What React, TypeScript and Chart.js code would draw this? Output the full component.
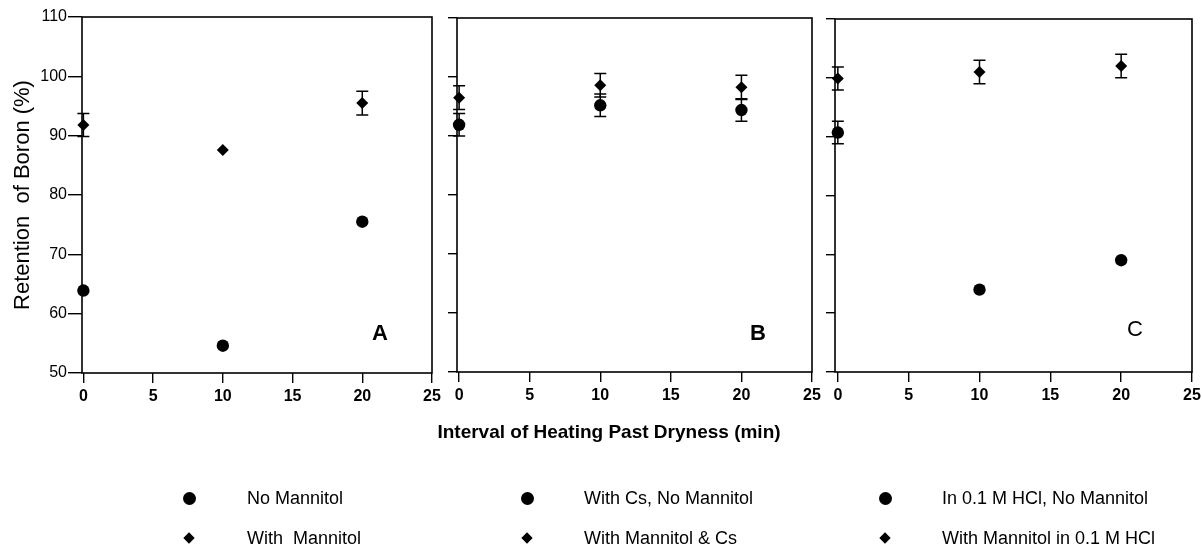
import React, { useEffect, useRef } from "react";
import { Chart, registerables } from "chart.js";

Chart.register(...registerables);

// ---------- data ----------
const heatingMinutes = [0, 10, 20];
const xTickValues = [0, 5, 10, 15, 20, 25];
const yTickValues = [50, 60, 70, 80, 90, 100, 110];

const panelANoMannitol = [63.9, 54.6, 75.5];
const panelANoMannitolErr = [0, 0, 0];
const panelAWithMannitol = [91.8, 87.6, 95.5];
const panelAWithMannitolErr = [1.95, 0, 2.0];

const panelBNoMannitol = [91.9, 95.2, 94.4];
const panelBNoMannitolErr = [1.9, 1.9, 1.9];
const panelBWithMannitol = [96.5, 98.6, 98.25];
const panelBWithMannitolErr = [2.0, 2.0, 2.05];

const panelCNoMannitol = [90.7, 64.0, 69.0];
const panelCNoMannitolErr = [1.9, 0, 0];
const panelCWithMannitol = [99.9, 101.0, 102.0];
const panelCWithMannitolErr = [1.95, 2.0, 2.0];

const legendCircleLabels = ["No Mannitol", "With Cs, No Mannitol", "In 0.1 M HCl, No Mannitol"];
const legendDiamondLabels = ["With  Mannitol", "With Mannitol & Cs", "With Mannitol in 0.1 M HCl"];
const panelLetters = ["A", "B", "C"];

const yTitle = "Retention  of Boron (%)";
const xTitle = "Interval of Heating Past Dryness (min)";

const FONT = "'Liberation Sans', Arial, Helvetica, sans-serif";
const W = 1202;
const H = 550;
const X_AXIS_H = 40;

type PanelCfg = {
  circles: number[];
  circleErr: number[];
  diamonds: number[];
  diamondErr: number[];
  left: number;
  right: number;
  top: number;
  bottom: number;
  padL: number;
  xMin: number;
  showYLabels: boolean;
  yTickLen: number;
};

const panels: PanelCfg[] = [
  {
    circles: panelANoMannitol, circleErr: panelANoMannitolErr,
    diamonds: panelAWithMannitol, diamondErr: panelAWithMannitolErr,
    left: 82, right: 432, top: 17, bottom: 373, padL: 6, xMin: -0.1,
    showYLabels: true, yTickLen: 14,
  },
  {
    circles: panelBNoMannitol, circleErr: panelBNoMannitolErr,
    diamonds: panelBWithMannitol, diamondErr: panelBWithMannitolErr,
    left: 457, right: 812, top: 18, bottom: 372, padL: 440, xMin: -0.15,
    showYLabels: false, yTickLen: 9,
  },
  {
    circles: panelCNoMannitol, circleErr: panelCNoMannitolErr,
    diamonds: panelCWithMannitol, diamondErr: panelCWithMannitolErr,
    left: 835, right: 1192, top: 19, bottom: 372, padL: 818, xMin: -0.2,
    showYLabels: false, yTickLen: 9,
  },
];

const errorBarPlugin = {
  id: "errorBars",
  beforeDatasetsDraw(chart: any) {
    const { ctx } = chart;
    const xs = chart.scales.x;
    const ys = chart.scales.y;
    chart.data.datasets.forEach((ds: any) => {
      const errs: number[] = ds.errors;
      if (!errs) return;
      ds.data.forEach((p: any, i: number) => {
        const e = errs[i];
        if (!e) return;
        const x = xs.getPixelForValue(p.x);
        const y1 = ys.getPixelForValue(p.y + e);
        const y2 = ys.getPixelForValue(p.y - e);
        ctx.save();
        ctx.strokeStyle = "#000";
        ctx.lineWidth = 1.5;
        ctx.beginPath();
        ctx.moveTo(x, y1);
        ctx.lineTo(x, y2);
        ctx.moveTo(x - 6, y1);
        ctx.lineTo(x + 6, y1);
        ctx.moveTo(x - 6, y2);
        ctx.lineTo(x + 6, y2);
        ctx.stroke();
        ctx.restore();
      });
    });
  },
};

const boxPlugin = {
  id: "frameBox",
  afterDraw(chart: any) {
    const { ctx, chartArea } = chart;
    ctx.save();
    ctx.strokeStyle = "#000";
    ctx.lineWidth = 1.6;
    ctx.strokeRect(chartArea.left, chartArea.top, chartArea.right - chartArea.left, chartArea.bottom - chartArea.top);
    ctx.restore();
  },
};

function Panel({ cfg }: { cfg: PanelCfg }) {
  const ref = useRef<HTMLCanvasElement | null>(null);
  useEffect(() => {
    if (!ref.current) return;
    const chart = new Chart(ref.current, {
      type: "scatter",
      data: {
        datasets: [
          {
            data: heatingMinutes.map((x, i) => ({ x, y: cfg.diamonds[i] })),
            errors: cfg.diamondErr,
            pointStyle: "rectRot",
            pointRadius: 6,
            backgroundColor: "#000",
            borderColor: "#000",
            borderWidth: 0,
            clip: false,
          } as any,
          {
            data: heatingMinutes.map((x, i) => ({ x, y: cfg.circles[i] })),
            errors: cfg.circleErr,
            pointStyle: "circle",
            pointRadius: 6.2,
            backgroundColor: "#000",
            borderColor: "#000",
            borderWidth: 0,
            clip: false,
          } as any,
        ],
      },
      options: {
        animation: false,
        responsive: false,
        events: [],
        layout: {
          padding: {
            left: cfg.padL,
            top: cfg.top,
            right: W - cfg.right,
            bottom: H - cfg.bottom - X_AXIS_H,
          },
        },
        plugins: {
          legend: { display: false },
          tooltip: { enabled: false },
        },
        scales: {
          x: {
            type: "linear",
            min: cfg.xMin,
            max: 25,
            border: { display: false },
            grid: {
              display: true,
              drawOnChartArea: false,
              drawTicks: true,
              tickLength: 10,
              color: "#000",
              lineWidth: 1.4,
            },
            ticks: {
              color: "#000",
              font: { family: FONT, size: 16, weight: "bold" },
              padding: 4,
              autoSkip: false,
              maxRotation: 0,
            },
            afterBuildTicks: (s: any) => {
              s.ticks = xTickValues.map((v) => ({ value: v }));
            },
            afterFit: (s: any) => {
              s.height = X_AXIS_H;
              s.paddingLeft = 0;
              s.paddingRight = 0;
            },
          } as any,
          y: {
            type: "linear",
            min: 50,
            max: 110,
            border: { display: false },
            grid: {
              display: true,
              drawOnChartArea: false,
              drawTicks: true,
              tickLength: cfg.yTickLen,
              color: "#000",
              lineWidth: 1.4,
            },
            ticks: {
              display: cfg.showYLabels,
              color: "#000",
              font: { family: FONT, size: 16 },
              padding: 1,
            },
            title: {
              display: cfg.showYLabels,
              text: yTitle,
              color: "#000",
              font: { family: FONT, size: 22 },
              padding: { top: 4, bottom: 4 },
            },
            afterBuildTicks: (s: any) => {
              s.ticks = yTickValues.map((v) => ({ value: v }));
            },
            afterFit: (s: any) => {
              s.width = cfg.left - cfg.padL;
              s.paddingTop = 0;
              s.paddingBottom = 0;
            },
          } as any,
        },
      },
      plugins: [errorBarPlugin, boxPlugin],
    } as any);
    return () => chart.destroy();
  }, [cfg]);
  return (
    <canvas
      ref={ref}
      width={W}
      height={H}
      style={{ position: "absolute", left: 0, top: 0, width: W, height: H }}
    />
  );
}

const letterPos = [
  { x: 380, y: 333, weight: "bold" },
  { x: 758, y: 333, weight: "bold" },
  { x: 1135, y: 329, weight: "normal" },
];

const legendCols = [
  { marker: 189, text: 247 },
  { marker: 527, text: 584 },
  { marker: 885, text: 942 },
];
const legendRows = [498, 538];

export default function App() {
  return (
    <div
      style={{
        position: "absolute",
        left: 0,
        top: 0,
        width: W,
        height: H,
        background: "#fff",
        overflow: "hidden",
        fontFamily: FONT,
        color: "#000",
      }}
    >
      {panels.map((p, i) => (
        <Panel key={i} cfg={p} />
      ))}
      {panelLetters.map((l, i) => (
        <div
          key={l}
          style={{
            position: "absolute",
            left: letterPos[i].x - 20,
            top: letterPos[i].y - 14,
            width: 40,
            height: 28,
            lineHeight: "28px",
            textAlign: "center",
            fontSize: 22,
            fontWeight: letterPos[i].weight as any,
          }}
        >
          {l}
        </div>
      ))}
      <div
        style={{
          position: "absolute",
          left: 309,
          width: 600,
          top: 420,
          height: 24,
          lineHeight: "24px",
          textAlign: "center",
          fontSize: 19,
          fontWeight: "bold",
        }}
      >
        {xTitle}
      </div>
      {legendCols.map((c, i) => (
        <React.Fragment key={i}>
          <div
            style={{
              position: "absolute",
              left: c.marker - 6.5,
              top: legendRows[0] - 6.5,
              width: 13,
              height: 13,
              borderRadius: "50%",
              background: "#000",
            }}
          />
          <div
            style={{
              position: "absolute",
              left: c.text,
              top: legendRows[0] - 11,
              height: 22,
              lineHeight: "22px",
              fontSize: 18,
              whiteSpace: "pre",
            }}
          >
            {legendCircleLabels[i]}
          </div>
          <div
            style={{
              position: "absolute",
              left: c.marker - 4,
              top: legendRows[1] - 4,
              width: 8,
              height: 8,
              background: "#000",
              transform: "rotate(45deg)",
            }}
          />
          <div
            style={{
              position: "absolute",
              left: c.text,
              top: legendRows[1] - 11,
              height: 22,
              lineHeight: "22px",
              fontSize: 18,
              whiteSpace: "pre",
            }}
          >
            {legendDiamondLabels[i]}
          </div>
        </React.Fragment>
      ))}
    </div>
  );
}
